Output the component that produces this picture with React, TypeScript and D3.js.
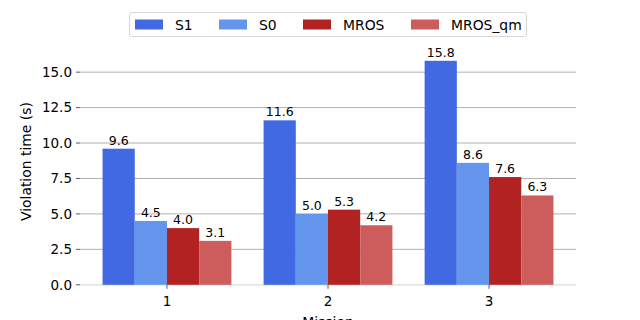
import React from 'react';
import * as d3 from 'd3';

const missions = ['1', '2', '3'];
const seriesNames = ['S1', 'S0', 'MROS', 'MROS_qm'];
const s1 = [9.6, 11.6, 15.8];
const s0 = [4.5, 5.0, 8.6];
const mros = [4.0, 5.3, 7.6];
const mrosQm = [3.1, 4.2, 6.3];
const yTicks = [0, 2.5, 5, 7.5, 10, 12.5, 15];

const colors = ['#4169E1', '#6495ED', '#B22222', '#CD5C5C'];
const seriesValues = [s1, s0, mros, mrosQm];

const width = 640;
const height = 320;
const margin = { top: 38.4, right: 64, bottom: 35.2, left: 80 };
const font = 'DejaVu Sans, sans-serif';

export default function App() {
  const innerW = width - margin.left - margin.right;
  const groupStep = innerW / 3.08;

  // linear x like matplotlib: categories at 1..3, limits 0.46..3.54
  const x = d3
    .scaleLinear()
    .domain([0.46, 3.54])
    .range([margin.left, width - margin.right]);

  const y = d3
    .scaleLinear()
    .domain([0, d3.max(s1)! * 1.1])
    .range([height - margin.bottom, margin.top]);

  const barW = 0.2;

  return (
    <svg
      width={width}
      height={height}
      style={{ position: 'absolute', left: 0, top: 0, background: '#fff' }}
      fontFamily={font}
    >
      {/* grid */}
      {yTicks.map(t => (
        <line
          key={t}
          x1={margin.left}
          x2={width - margin.right}
          y1={y(t)}
          y2={y(t)}
          stroke="#b0b0b0"
          strokeWidth={1}
        />
      ))}
      <line
        x1={margin.left}
        x2={width - margin.right}
        y1={y(0)}
        y2={y(0)}
        stroke="#f3f3f3"
      />

      {/* bars */}
      {seriesValues.map((vals, si) =>
        vals.map((v, mi) => {
          const cx = mi + 1 + (si - 1.5) * barW;
          const x0 = x(cx - barW / 2);
          const x1 = x(cx + barW / 2);
          return (
            <g key={`${si}-${mi}`}>
              <rect
                x={x0}
                y={y(v)}
                width={x1 - x0}
                height={y(0) - y(v)}
                fill={colors[si]}
              />
              <text
                x={(x0 + x1) / 2}
                y={y(v) - 4}
                textAnchor="middle"
                fontSize={12.5}
                fill="#000"
              >
                {v.toFixed(1)}
              </text>
            </g>
          );
        })
      )}

      {/* y axis */}
      {yTicks.map(t => (
        <g key={t}>
          <line
            x1={margin.left - 4}
            x2={margin.left}
            y1={y(t)}
            y2={y(t)}
            stroke="#333"
            strokeWidth={0.8}
          />
          <text
            x={margin.left - 8}
            y={y(t)}
            dy="0.36em"
            textAnchor="end"
            fontSize={13.5}
            fill="#000"
          >
            {t.toFixed(1)}
          </text>
        </g>
      ))}
      <text
        transform={`translate(31,${(y(0) + margin.top) / 2}) rotate(-90)`}
        textAnchor="middle"
        fontSize={13.9}
        fill="#000"
      >
        Violation time (s)
      </text>

      {/* x axis */}
      {missions.map((m, i) => (
        <g key={m}>
          <line
            x1={x(i + 1)}
            x2={x(i + 1)}
            y1={y(0)}
            y2={y(0) + 4}
            stroke="#333"
            strokeWidth={0.8}
          />
          <text
            x={x(i + 1)}
            y={y(0) + 21}
            textAnchor="middle"
            fontSize={13.5}
            fill="#000"
          >
            {m}
          </text>
        </g>
      ))}
      <text
        x={(margin.left + width - margin.right) / 2}
        y={y(0) + 42}
        textAnchor="middle"
        fontSize={13.9}
        fill="#000"
      >
        Mission
      </text>

      {/* legend */}
      <g>
        <rect
          x={129.5}
          y={12.5}
          width={397}
          height={24}
          rx={2.5}
          fill="#fff"
          fillOpacity={0.8}
          stroke="#d6d6d6"
        />
        {seriesNames.map((name, i) => {
          const lx = [135, 219, 303, 411][i];
          return (
            <g key={name}>
              <rect x={lx} y={19.5} width={28} height={10} fill={colors[i]} />
              <text x={lx + 40} y={24.5} dy="0.36em" fontSize={13.9} fill="#000">
                {name}
              </text>
            </g>
          );
        })}
      </g>
    </svg>
  );
}
